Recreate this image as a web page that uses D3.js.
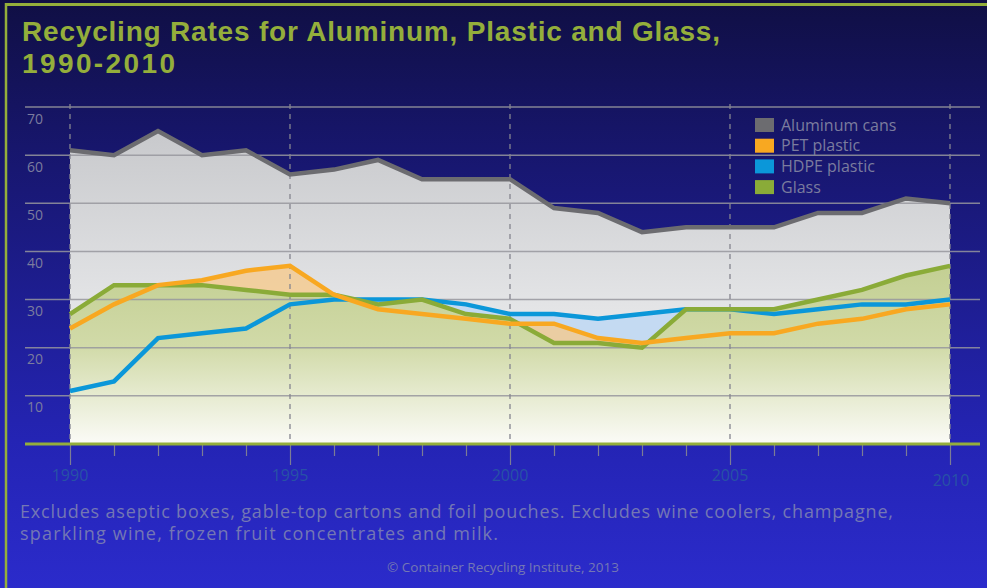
<!DOCTYPE html>
<html>

<head>
	<meta charset='utf-8'>
	<style>
		body {
			margin: 0;
			overflow: hidden;
		}

		svg {
			display: block;
			font-family: 'Open Sans', sans-serif;
		}
	</style>
</head>

<body>
	<svg></svg>
	<script src="https://d3js.org/d3.v7.min.js"></script>
	<script>
		// values (percent recycled)
		var years = [1990, 1991, 1992, 1993, 1994, 1995, 1996, 1997, 1998, 1999, 2000,
			2001, 2002, 2003, 2004, 2005, 2006, 2007, 2008, 2009, 2010];
		var aluminum = [61, 60, 65, 60, 61, 56, 57, 59, 55, 55, 55, 49, 48, 44, 45, 45, 45, 48, 48, 51, 50];
		var pet = [24, 29, 33, 34, 36, 37, 31, 28, 27, 26, 25, 25, 22, 21, 22, 23, 23, 25, 26, 28, 29];
		var hdpe = [11, 13, 22, 23, 24, 29, 30, 30, 30, 29, 27, 27, 26, 27, 28, 28, 27, 28, 29, 29, 30];
		var glass = [27, 33, 33, 33, 32, 31, 31, 29, 30, 27, 26, 21, 21, 20, 28, 28, 28, 30, 32, 35, 37];
		var yTicks = [10, 20, 30, 40, 50, 60, 70];
		var xLabels = [1990, 1995, 2000, 2005, 2010];
		var legendNames = ['Aluminum cans', 'PET plastic', 'HDPE plastic', 'Glass'];

		var title1 = 'Recycling Rates for Aluminum, Plastic and Glass,';
		var title2 = '1990-2010';
		var note1 = 'Excludes aseptic boxes, gable-top cartons and foil pouches. Excludes wine coolers, champagne,';
		var note2 = 'sparkling wine, frozen fruit concentrates and milk.';
		var credit = '\u00a9 Container Recycling Institute, 2013';

		var width = 987, height = 588;
		var gridLeft = 25, gridRight = 980;
		var olive = '#94ae3b', labelGray = '#7b7c9e', noteColor = '#7477b4';

		var svg = d3.select('svg').attr('width', width).attr('height', height);
		var defs = svg.append('defs');

		var bg = defs.append('linearGradient').attr('id', 'bg').attr('x1', 0).attr('y1', 0).attr('x2', 0).attr('y2', 1);
		bg.append('stop').attr('offset', '0%').attr('stop-color', '#100f44');
		bg.append('stop').attr('offset', '25%').attr('stop-color', '#17166c');
		bg.append('stop').attr('offset', '75%').attr('stop-color', '#2424b4');
		bg.append('stop').attr('offset', '100%').attr('stop-color', '#2b2bcb');
		svg.append('rect').attr('width', width).attr('height', height).attr('fill', 'url(#bg)');

		// frame
		svg.append('line').attr('x1', 6).attr('x2', width).attr('y1', 4.5).attr('y2', 4.5).attr('stroke', olive).attr('stroke-width', 3);
		svg.append('line').attr('x1', 6).attr('x2', 6).attr('y1', 3).attr('y2', height).attr('stroke', olive).attr('stroke-width', 2.5);

		// title
		var titleFont = "'Liberation Sans', Arial, sans-serif";
		svg.append('text').attr('x', 22).attr('y', 41).attr('fill', olive).attr('font-family', titleFont)
			.attr('font-size', 28).attr('font-weight', 700)
			.attr('textLength', 698).attr('lengthAdjust', 'spacing').text(title1);
		svg.append('text').attr('x', 22).attr('y', 73).attr('fill', olive).attr('font-family', titleFont)
			.attr('font-size', 28).attr('font-weight', 700)
			.attr('textLength', 153).attr('lengthAdjust', 'spacing').text(title2);

		var x_scale = d3.scaleLinear().domain([1990, 2010]).range([70, 950]);
		var y_scale = d3.scaleLinear().domain([0, 70]).range([444, 107]);

		// gradients for the areas
		var gray = defs.append('linearGradient').attr('id', 'grayFill').attr('gradientUnits', 'userSpaceOnUse')
			.attr('x1', 0).attr('x2', 0).attr('y1', y_scale(65)).attr('y2', y_scale(0));
		gray.append('stop').attr('offset', '0%').attr('stop-color', '#c8c9cc');
		gray.append('stop').attr('offset', '55%').attr('stop-color', '#e3e4e6');
		gray.append('stop').attr('offset', '100%').attr('stop-color', '#f6f6f6');

		var green = defs.append('linearGradient').attr('id', 'greenFill').attr('gradientUnits', 'userSpaceOnUse')
			.attr('x1', 0).attr('x2', 0).attr('y1', y_scale(37)).attr('y2', y_scale(0));
		green.append('stop').attr('offset', '0%').attr('stop-color', '#c3cf93');
		green.append('stop').attr('offset', '45%').attr('stop-color', '#d1daa8');
		green.append('stop').attr('offset', '100%').attr('stop-color', '#fbfbf7');

		var series = [
			{ name: 'Aluminum cans', values: aluminum, stroke: '#6c6c70', fill: 'url(#grayFill)', opacity: 1 },
			{ name: 'HDPE plastic', values: hdpe, stroke: '#0b97d9', fill: '#c4daf2', opacity: 1 },
			{ name: 'PET plastic', values: pet, stroke: '#f8a821', fill: '#f7c887', opacity: 0.75 },
			{ name: 'Glass', values: glass, stroke: '#8aab38', fill: 'url(#greenFill)', opacity: 1 }
		];

		var area = d3.area()
			.x(function (d, i) { return x_scale(years[i]) })
			.y0(y_scale(0))
			.y1(function (d) { return y_scale(d) });
		var line = d3.line()
			.x(function (d, i) { return x_scale(years[i]) })
			.y(function (d) { return y_scale(d) });

		svg.append('g').selectAll('path')
			.data(series)
			.enter()
			.append('path')
			.attr('d', function (d) { return area(d.values) })
			.attr('fill', function (d) { return d.fill })
			.attr('fill-opacity', function (d) { return d.opacity });

		// horizontal grid
		svg.append('g').selectAll('line')
			.data(yTicks)
			.enter()
			.append('line')
			.attr('x1', gridLeft).attr('x2', gridRight)
			.attr('y1', function (d) { return y_scale(d) })
			.attr('y2', function (d) { return y_scale(d) })
			.attr('stroke', 'rgba(150,150,158,0.85)')
			.attr('stroke-width', 1.5);

		svg.append('g').selectAll('text')
			.data(yTicks)
			.enter()
			.append('text')
			.attr('x', 27)
			.attr('y', function (d) { return y_scale(d) + 16.5 })
			.attr('fill', labelGray)
			.attr('font-size', 14)
			.text(function (d) { return d });

		// dashed year lines
		svg.append('g').selectAll('line')
			.data(xLabels)
			.enter()
			.append('line')
			.attr('x1', function (d) { return x_scale(d) })
			.attr('x2', function (d) { return x_scale(d) })
			.attr('y1', 104).attr('y2', y_scale(0))
			.attr('stroke', '#85858f')
			.attr('stroke-width', 1.3)
			.attr('stroke-dasharray', '5,5');

		// series lines, PET last as it sits on top
		var lineOrder = [series[0], series[1], series[3], series[2]];
		svg.append('g').selectAll('path')
			.data(lineOrder)
			.enter()
			.append('path')
			.attr('d', function (d) { return line(d.values) })
			.attr('fill', 'none')
			.attr('stroke', function (d) { return d.stroke })
			.attr('stroke-width', 4.5)
			.attr('stroke-linejoin', 'miter');

		// x axis
		var x_axis = d3.axisBottom(x_scale)
			.tickValues(years)
			.tickSize(0)
			.tickFormat('');
		var xg = svg.append('g').attr('transform', 'translate(0,' + y_scale(0) + ')').call(x_axis);
		xg.select('.domain').remove();
		xg.selectAll('.tick line')
			.attr('y2', function (d) { return d % 5 === 0 ? 21 : 12 })
			.attr('stroke', '#7c7c94')
			.attr('stroke-width', 1.2);
		svg.append('line').attr('x1', gridLeft).attr('x2', gridRight)
			.attr('y1', y_scale(0)).attr('y2', y_scale(0))
			.attr('stroke', olive).attr('stroke-width', 3);

		svg.append('g').selectAll('text')
			.data(xLabels)
			.enter()
			.append('text')
			.attr('x', function (d) { return x_scale(d) + (d === 2010 ? 1 : 0) })
			.attr('y', function (d) { return d === 2010 ? 486 : 481 })
			.attr('text-anchor', 'middle')
			.attr('fill', '#2852a6')
			.attr('font-size', 16)
			.text(function (d) { return d });

		// legend
		var legendColors = { 'Aluminum cans': '#6c6c70', 'PET plastic': '#f8a821', 'HDPE plastic': '#0b97d9', 'Glass': '#8aab38' };
		var legend = svg.append('g').selectAll('g')
			.data(legendNames)
			.enter()
			.append('g')
			.attr('transform', function (d, i) { return 'translate(755,' + (118 + i * 20.7) + ')' });
		legend.append('rect').attr('width', 19).attr('height', 14).attr('fill', function (d) { return legendColors[d] });
		legend.append('text').attr('x', 26).attr('y', 12.5).attr('fill', labelGray).attr('font-size', 16).text(function (d) { return d });

		// notes
		svg.append('text').attr('x', 20).attr('y', 518).attr('fill', noteColor).attr('font-size', 18)
			.attr('textLength', 873).attr('lengthAdjust', 'spacing').text(note1);
		svg.append('text').attr('x', 20).attr('y', 540).attr('fill', noteColor).attr('font-size', 18)
			.attr('textLength', 478).attr('lengthAdjust', 'spacing').text(note2);
		svg.append('text').attr('x', 503).attr('y', 572).attr('text-anchor', 'middle').attr('fill', noteColor).attr('font-size', 13.5).text(credit);
	</script>
</body>

</html>
